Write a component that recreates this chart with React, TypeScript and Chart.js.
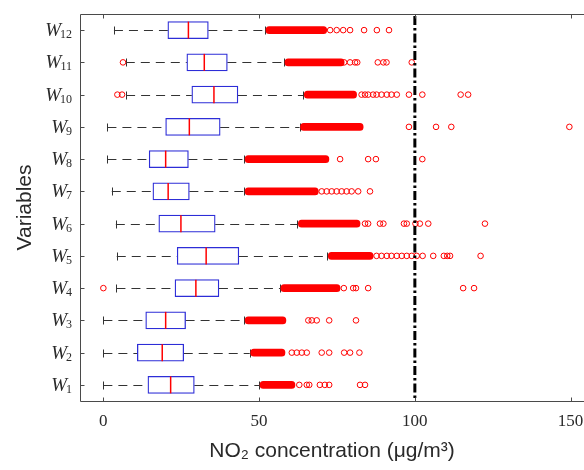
import React, { useEffect, useRef } from 'react';
import { Chart, registerables } from 'chart.js';

Chart.register(...registerables);

// ---- data (W1 .. W12) ----
const variables = ['W1', 'W2', 'W3', 'W4', 'W5', 'W6', 'W7', 'W8', 'W9', 'W10', 'W11', 'W12'];
const subscripts = ['1', '2', '3', '4', '5', '6', '7', '8', '9', '10', '11', '12'];
const whiskerLow = [0.0, 0.0, 0.0, 4.2, 4.3, 4.0, 2.7, 1.3, 1.3, 7.3, 7.2, 3.4];
const q1 = [14.3, 10.9, 13.6, 23.0, 23.7, 17.8, 15.9, 14.7, 20.0, 28.4, 26.8, 20.7];
const median = [21.6, 18.9, 20.0, 29.7, 33.0, 24.9, 20.8, 20.0, 27.6, 35.5, 32.4, 27.3];
const q3 = [29.2, 25.8, 26.4, 37.1, 43.5, 35.9, 27.6, 27.3, 37.5, 43.2, 39.8, 33.7];
const whiskerHigh = [50.0, 47.0, 45.2, 56.7, 71.9, 62.3, 45.2, 45.2, 63.0, 64.2, 58.0, 52.0];
const denseOutlierStart = [50.3, 47.3, 45.5, 57.0, 72.2, 62.6, 45.5, 45.5, 63.3, 64.5, 58.3, 52.2];
const denseOutlierEnd = [61.5, 58.3, 58.6, 76.0, 86.6, 82.4, 69.0, 72.4, 83.4, 81.3, 77.3, 71.7];
const sparseOutliers: number[][] = [
  [62.9, 65.3, 66.1, 69.5, 71.1, 72.5, 82.4, 84.0],
  [60.5, 62.1, 63.7, 65.3, 70.1, 72.5, 77.3, 79.2, 82.2],
  [65.8, 66.9, 68.5, 72.5, 81.1],
  [0.0, 77.2, 80.2, 81.1, 85.0, 115.5, 119.0],
  [87.7, 89.3, 91.0, 92.5, 94.2, 95.8, 97.4, 99.0, 100.6, 102.5, 105.9, 109.3, 110.4, 111.3, 121.1],
  [84.0, 85.0, 88.8, 89.9, 96.5, 97.4, 100.2, 101.6, 104.3, 122.5],
  [70.1, 71.7, 73.3, 74.9, 76.5, 78.1, 79.7, 81.8, 85.6],
  [76.0, 85.0, 87.5, 102.4],
  [98.1, 106.8, 111.7, 149.6],
  [4.5, 6.0, 82.9, 84.0, 85.0, 86.6, 87.7, 89.3, 91.0, 92.5, 94.2, 98.1, 102.4, 114.7, 117.1],
  [6.3, 77.3, 79.2, 80.8, 81.5, 88.1, 89.9, 90.9, 99.0],
  [72.8, 74.9, 77.0, 79.2, 83.7, 87.8, 91.7],
];
const limitValue = 100;
const xTicks = [0, 50, 100, 150];
const xMin = -7.5;
const xMax = 154.3;
const xTitle = 'NO₂ concentration (μg/m³)';
const yTitle = 'Variables';

// ---- styles ----
const BOX_H = 17;
const BAND_H = 7;
const BLUE = 'rgb(45,45,215)';
const RED = '#ff0000';
const FRAME = '#4a4a4a';
const TEXT = '#2a2a2a';

const boxPlugin = {
  id: 'boxExtras',
  beforeDatasetsDraw(chart: any) {
    const { ctx, scales } = chart;
    const x = scales.x;
    const y = scales.y;
    ctx.save();
    ctx.strokeStyle = '#333';
    ctx.lineWidth = 1;
    variables.forEach((_, i) => {
      const yc = Math.round(y.getPixelForValue(i)) + 0.5;
      const xl = x.getPixelForValue(whiskerLow[i]);
      const xa = x.getPixelForValue(q1[i]);
      const xb = x.getPixelForValue(q3[i]);
      const xh = x.getPixelForValue(whiskerHigh[i]);
      ctx.setLineDash([9, 6]);
      ctx.beginPath();
      ctx.moveTo(xl, yc);
      ctx.lineTo(xa, yc);
      ctx.stroke();
      ctx.beginPath();
      ctx.moveTo(xb, yc);
      ctx.lineTo(xh, yc);
      ctx.stroke();
      ctx.setLineDash([]);
      ctx.beginPath();
      ctx.moveTo(Math.round(xl) + 0.5, yc - 4);
      ctx.lineTo(Math.round(xl) + 0.5, yc + 4);
      ctx.moveTo(Math.round(xh) + 0.5, yc - 4);
      ctx.lineTo(Math.round(xh) + 0.5, yc + 4);
      ctx.stroke();
    });
    ctx.restore();
  },
  afterDatasetsDraw(chart: any) {
    const { ctx, scales, chartArea } = chart;
    const x = scales.x;
    const y = scales.y;
    ctx.save();
    // medians
    ctx.strokeStyle = RED;
    ctx.lineWidth = 1.5;
    variables.forEach((_, i) => {
      const yc = y.getPixelForValue(i);
      const xm = x.getPixelForValue(median[i]);
      ctx.beginPath();
      ctx.moveTo(xm, yc - BOX_H / 2);
      ctx.lineTo(xm, yc + BOX_H / 2);
      ctx.stroke();
    });
    // limit line
    const xl = x.getPixelForValue(limitValue);
    ctx.strokeStyle = '#000';
    ctx.lineWidth = 3;
    ctx.setLineDash([9, 3, 2.5, 3]);
    ctx.beginPath();
    ctx.moveTo(xl, chartArea.top + 2);
    ctx.lineTo(xl, chartArea.bottom);
    ctx.stroke();
    ctx.setLineDash([]);
    // frame
    ctx.strokeStyle = FRAME;
    ctx.lineWidth = 1;
    const L = chartArea.left + 0.5;
    const T = chartArea.top + 0.5;
    const B = chartArea.bottom + 0.5;
    const R = chartArea.right;
    ctx.beginPath();
    ctx.moveTo(R, T);
    ctx.lineTo(L, T);
    ctx.lineTo(L, B);
    ctx.lineTo(R, B);
    ctx.stroke();
    ctx.beginPath();
    xTicks.forEach((v) => {
      const px = Math.round(x.getPixelForValue(v)) + 0.5;
      ctx.moveTo(px, T);
      ctx.lineTo(px, T + 4);
      ctx.moveTo(px, B);
      ctx.lineTo(px, B - 4);
    });
    variables.forEach((_, i) => {
      const py = Math.round(y.getPixelForValue(i)) + 0.5;
      ctx.moveTo(L, py);
      ctx.lineTo(L + 4, py);
    });
    ctx.stroke();
    // y labels W_n
    ctx.fillStyle = TEXT;
    ctx.textAlign = 'left';
    ctx.textBaseline = 'alphabetic';
    const rightEdge = chartArea.left - 8;
    variables.forEach((_, i) => {
      const yc = y.getPixelForValue(i);
      ctx.font = '12px "Liberation Serif"';
      const sw = ctx.measureText(subscripts[i]).width;
      ctx.fillText(subscripts[i], rightEdge - sw, yc + 8);
      ctx.font = 'italic 19px "Liberation Serif"';
      const ww = ctx.measureText('W').width;
      ctx.fillText('W', rightEdge - sw - ww + 1, yc + 6);
    });
    ctx.restore();
  },
};

export default function App() {
  const canvasRef = useRef<HTMLCanvasElement | null>(null);

  useEffect(() => {
    const canvas = canvasRef.current;
    if (!canvas) return;
    Chart.defaults.font.family = '"Liberation Sans", Arial, sans-serif';

    const scatterData: { x: number; y: string }[] = [];
    sparseOutliers.forEach((arr, i) => {
      arr.forEach((v) => scatterData.push({ x: v, y: variables[i] }));
    });

    const chart = new Chart(canvas, {
      type: 'bar',
      data: {
        labels: variables,
        datasets: [
          {
            type: 'bar',
            label: 'box',
            data: q1.map((v, i) => [v, q3[i]]) as any,
            backgroundColor: '#ffffff',
            borderColor: BLUE,
            borderWidth: 1.3,
            borderSkipped: false,
            barThickness: BOX_H,
            grouped: false,
            indexAxis: 'y',
            order: 3,
          } as any,
          {
            type: 'bar',
            label: 'dense outliers',
            data: denseOutlierStart.map((v, i) => [v, denseOutlierEnd[i]]) as any,
            backgroundColor: RED,
            borderWidth: 0,
            borderSkipped: false,
            borderRadius: BAND_H / 2,
            barThickness: BAND_H,
            grouped: false,
            indexAxis: 'y',
            order: 2,
          } as any,
          {
            type: 'scatter',
            label: 'outliers',
            data: scatterData as any,
            pointRadius: 2.8,
            pointBorderWidth: 1,
            pointBorderColor: RED,
            pointBackgroundColor: 'rgba(255,255,255,0)',
            order: 1,
          } as any,
        ],
      },
      options: {
        animation: false,
        responsive: true,
        maintainAspectRatio: false,
        indexAxis: 'y',
        layout: { autoPadding: false, padding: { top: 14, right: 0, bottom: 0, left: 0 } },
        plugins: {
          legend: { display: false },
          tooltip: { enabled: false },
        },
        scales: {
          x: {
            type: 'linear',
            position: 'bottom',
            min: xMin,
            max: xMax,
            grid: { display: false },
            border: { display: false },
            afterBuildTicks: (s: any) => {
              s.ticks = xTicks.map((v) => ({ value: v }));
            },
            afterFit: (s: any) => {
              s.height = 69;
              s.paddingLeft = 0;
              s.paddingRight = 0;
            },
            ticks: {
              font: { family: '"Liberation Serif", serif', size: 17 },
              color: TEXT,
              padding: 2,
              maxRotation: 0,
            },
            title: {
              display: true,
              text: xTitle,
              font: { family: '"Liberation Sans", Arial, sans-serif', size: 21 },
              color: TEXT,
              padding: { top: 0, bottom: 6 },
            },
          },
          y: {
            type: 'category',
            position: 'left',
            reverse: true,
            offset: true,
            grid: { display: false },
            border: { display: false },
            ticks: { display: false },
            afterFit: (s: any) => {
              s.width = 80;
              s.paddingTop = 0;
              s.paddingBottom = 0;
            },
            title: {
              display: true,
              text: yTitle,
              font: { family: '"Liberation Sans", Arial, sans-serif', size: 21 },
              color: TEXT,
              padding: { top: 13, bottom: 0 },
            },
          },
        },
      } as any,
      plugins: [boxPlugin],
    });

    return () => {
      chart.destroy();
    };
  }, []);

  return (
    <div style={{ position: 'absolute', left: 0, top: 0, width: 584, height: 470, background: '#fff' }}>
      <canvas ref={canvasRef} />
    </div>
  );
}
